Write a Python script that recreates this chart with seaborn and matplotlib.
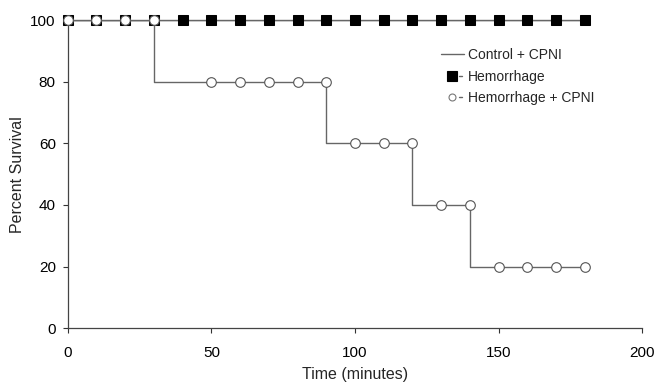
import matplotlib
matplotlib.use("Agg")
import matplotlib.pyplot as plt
import seaborn as sns
from matplotlib.lines import Line2D
from matplotlib.legend_handler import HandlerBase

sns.set_theme(style="ticks")
plt.rcParams['font.family'] = ['Liberation Sans', 'DejaVu Sans']

time_ctrl = [0, 180]
surv_ctrl = [100, 100]
time_hem = [0, 10, 20, 30, 40, 50, 60, 70, 80, 90, 100, 110, 120, 130, 140, 150, 160, 170, 180]
surv_hem = [100] * 19
time_hc = [0, 10, 20, 30, 50, 60, 70, 80, 90, 100, 110, 120, 130, 140, 150, 160, 170, 180]
surv_hc = [100, 100, 100, 100, 80, 80, 80, 80, 80, 60, 60, 60, 40, 40, 20, 20, 20, 20]

xticks = [0, 50, 100, 150, 200]
yticks = [0, 20, 40, 60, 80, 100]
labels = ["Control + CPNI", "Hemorrhage", "Hemorrhage + CPNI"]

fig = plt.figure(figsize=(6.58, 3.87), dpi=100)
ax = fig.add_axes([0.103, 0.152, 0.873, 0.796])

lc = "#666666"
sns.lineplot(x=time_ctrl, y=surv_ctrl, ax=ax, color=lc, linewidth=1.0)
sns.lineplot(x=time_hem, y=surv_hem, ax=ax, color=lc, linewidth=1.0,
             marker="s", markersize=6.6, markerfacecolor="black",
             markeredgecolor="black", clip_on=False)
sns.lineplot(x=time_hc, y=surv_hc, ax=ax, color=lc, linewidth=1.0,
             drawstyle="steps-pre")
sns.scatterplot(x=time_hc, y=surv_hc, ax=ax, marker="o", s=48,
                facecolor="white", edgecolor="#555555", linewidth=0.8,
                clip_on=False, zorder=5)

ax.set_xlim(0, 200)
ax.set_ylim(0, 100)
ax.set_xticks(xticks)
ax.set_yticks(yticks)
ax.tick_params(labelsize=11, length=3.6, width=0.8, colors="#333333",
               labelcolor="black")
ax.tick_params(axis="x", pad=9)
ax.tick_params(axis="y", pad=5)
for s in ["top", "right"]:
    ax.spines[s].set_visible(False)
for s in ["left", "bottom"]:
    ax.spines[s].set_color("#444444")
    ax.spines[s].set_linewidth(0.9)
ax.set_xlabel("Time (minutes)", fontsize=11.5, labelpad=5)
ax.set_ylabel("Percent Survival", fontsize=11.5, labelpad=4)


class MarkDash(HandlerBase):
    def create_artists(self, legend, orig, xd, yd, w, h, fontsize, trans):
        y = yd + h / 2
        arts = []
        if orig.get_marker() in (None, "None", ""):
            arts.append(Line2D([xd, xd + w], [y, y], color=lc, linewidth=1.0,
                               transform=trans))
        else:
            arts.append(Line2D([xd + 0.78 * w, xd + 0.92 * w], [y, y],
                               color=lc, linewidth=1.0, transform=trans))
            arts.append(Line2D([xd + 0.48 * w], [y], marker=orig.get_marker(),
                               markersize=orig.get_markersize(),
                               markerfacecolor=orig.get_markerfacecolor(),
                               markeredgecolor=orig.get_markeredgecolor(),
                               markeredgewidth=0.8, linestyle="None",
                               transform=trans))
        return arts


handles = [
    Line2D([], [], color=lc, linewidth=1.0),
    Line2D([], [], marker="s", markersize=7, markerfacecolor="black",
           markeredgecolor="black", linestyle="None"),
    Line2D([], [], marker="o", markersize=5, markerfacecolor="white",
           markeredgecolor="#777777", linestyle="None"),
]
ax.legend(handles, labels, handler_map={Line2D: MarkDash()},
          loc="upper left", bbox_to_anchor=(441 / 658, 1 - 48 / 387),
          bbox_transform=fig.transFigure, frameon=False, borderpad=0,
          borderaxespad=0, fontsize=10, handlelength=1.65,
          handletextpad=0.3, labelspacing=0.55)

fig.savefig("out.png", dpi=100)
